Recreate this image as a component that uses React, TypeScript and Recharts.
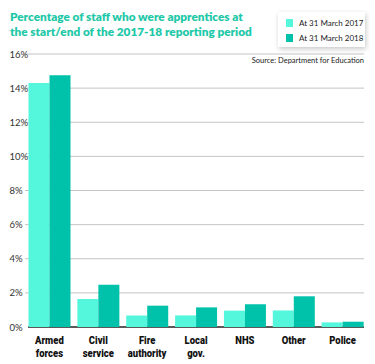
import React from "react";
import { BarChart, Bar, XAxis, YAxis, CartesianGrid } from "recharts";

const categories = ["Armed forces", "Civil service", "Fire authority", "Local gov.", "NHS", "Other", "Police"];
const categoryLines = [["Armed", "forces"], ["Civil", "service"], ["Fire", "authority"], ["Local", "gov."], ["NHS"], ["Other"], ["Police"]];
const values2017 = [14.3, 1.64, 0.68, 0.68, 0.96, 0.97, 0.27];
const values2018 = [14.75, 2.48, 1.25, 1.15, 1.33, 1.8, 0.31];
const yTicks = [0, 2, 4, 6, 8, 10, 12, 14, 16];
const seriesNames = ["At 31 March 2017", "At 31 March 2018"];

const COLOR_2017 = "#55f7dc";
const COLOR_2018 = "#00c2aa";
const TITLE_COLOR = "#1fc8a8";

const data = categories.map((c, i) => ({
  name: c,
  v2017: values2017[i],
  v2018: values2018[i],
}));

const CHART_H = 364;
const MARGIN_BOTTOM = 37;
const PLOT_BOTTOM = CHART_H - MARGIN_BOTTOM;

const YTick = (props: any) => {
  const { y, payload } = props;
  return (
    <text x={9.5} y={y} dy={3.5} textAnchor="start" fontSize={9.5} fill="#333" fontFamily="Lato, 'Liberation Sans', sans-serif">
      {payload.value}%
    </text>
  );
};

const XTick = (props: any) => {
  const { x, payload, index } = props;
  const lines = categoryLines[index] || [payload.value];
  return (
    <g transform={`translate(${x},${PLOT_BOTTOM}) scale(0.84,1)`}>
      {lines.map((l: string, i: number) => (
        <text
          key={i}
          x={0}
          y={17 + i * 12.7}
          textAnchor="middle"
          fontSize={11.3}
          fontWeight={900}
          fill="#111"
          fontFamily="Roboto, 'DejaVu Sans', sans-serif"
        >
          {l}
        </text>
      ))}
    </g>
  );
};

const GridLine = (props: any) => {
  const { x1, x2, y1, y2 } = props;
  if (Math.abs(y1 - PLOT_BOTTOM) < 1) {
    return <line x1={x1 + 3} x2={x2 - 3} y1={y1} y2={y2} stroke="#222" strokeWidth={1.6} />;
  }
  return <line x1={x1} x2={x2 - 3} y1={y1} y2={y2} stroke="#c4c4c4" strokeWidth={1} />;
};

const LegendBox = () => (
  <div
    style={{
      position: "absolute",
      left: 278,
      top: 12,
      width: 87,
      height: 35,
      background: "#fff",
      boxShadow: "1px 2px 5px rgba(0,0,0,0.22)",
      fontFamily: "Lato, 'Liberation Sans', sans-serif",
      fontSize: 8,
      color: "#222",
    }}
  >
    {seriesNames.map((n, i) => (
      <div key={n} style={{ position: "absolute", left: 8, top: 6 + i * 14.5, display: "flex", alignItems: "center", whiteSpace: "nowrap" }}>
        <div style={{ width: 7, height: 8, background: i === 0 ? COLOR_2017 : COLOR_2018, marginRight: 6 }} />
        <span>{n}</span>
      </div>
    ))}
  </div>
);

export default function App() {
  return (
    <div style={{ position: "absolute", left: 0, top: 0, width: 375, height: 364, background: "#fff", overflow: "hidden" }}>
      <style>{`body{margin:0}`}</style>
      <div
        style={{
          position: "absolute",
          left: 10,
          top: 9,
          fontFamily: "Lato, 'Open Sans', sans-serif",
          fontWeight: 800,
          fontSize: 11.8,
          lineHeight: "15px",
          color: TITLE_COLOR,
          whiteSpace: "nowrap",
        }}
      >
        Percentage of staff who were apprentices at
        <br />
        the start/end of the 2017-18 reporting period
      </div>
      <div
        style={{
          position: "absolute",
          right: 11,
          top: 56,
          fontFamily: "Lato, 'Liberation Sans', sans-serif",
          fontSize: 7.5,
          color: "#222",
          whiteSpace: "nowrap",
        }}
      >
        Source: Department for Education
      </div>
      <div style={{ position: "absolute", left: 0, top: 0 }}>
        <BarChart
          width={375}
          height={CHART_H}
          data={data}
          margin={{ top: 54, right: 8, bottom: 0, left: 0 }}
          barCategoryGap={3.5}
          barGap={0}
        >
          <CartesianGrid vertical={false} horizontal={GridLine as any} />
          <XAxis dataKey="name" height={MARGIN_BOTTOM} axisLine={false} tickLine={false} tick={XTick as any} interval={0} />
          <YAxis width={25} domain={[0, 16]} ticks={yTicks} axisLine={false} tickLine={false} tick={YTick as any} interval={0} />
          <Bar dataKey="v2017" name={seriesNames[0]} fill={COLOR_2017} isAnimationActive={false} />
          <Bar dataKey="v2018" name={seriesNames[1]} fill={COLOR_2018} isAnimationActive={false} />
        </BarChart>
      </div>
      <LegendBox />
    </div>
  );
}
